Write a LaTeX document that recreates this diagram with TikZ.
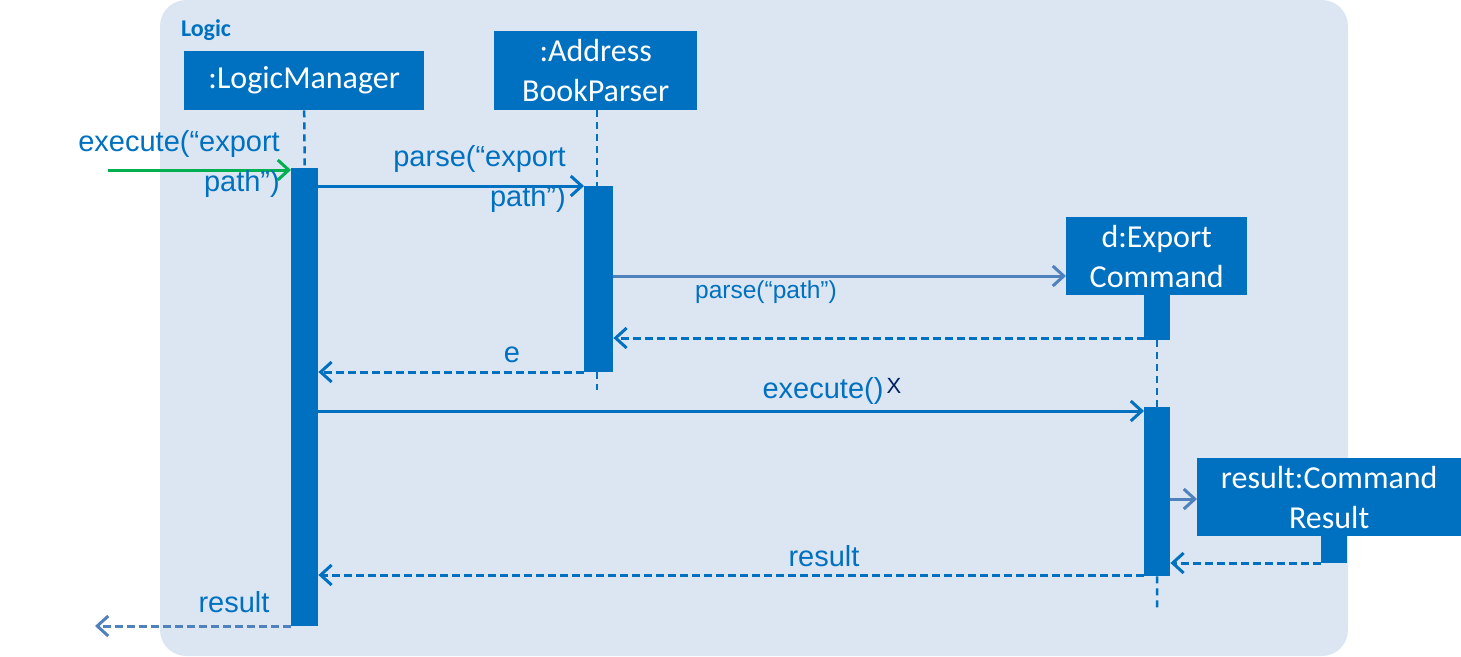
\documentclass[tikz,border=0pt]{standalone}
\usepackage{fontspec}
\setmainfont{Liberation Sans}
\newfontfamily\boxfont{Carlito}
\usetikzlibrary{arrows.meta}
\definecolor{boxblue}{HTML}{0070C0}
\definecolor{bgblue}{HTML}{DCE6F2}
\definecolor{lightblue}{HTML}{4F81BD}
\definecolor{msggreen}{HTML}{00B050}
\definecolor{navy}{HTML}{002060}
\tikzset{
  objbox/.style={fill=boxblue, draw=none, anchor=north west, inner sep=0pt,
    text=white, align=center, font=\boxfont\fontsize{32}{40}\selectfont},
  actbar/.style={fill=boxblue, draw=none, anchor=north west, inner sep=0pt},
  lifeline/.style={draw=boxblue, line width=2.5pt, dash pattern=on 7pt off 5pt},
  tip/.style={-{Straight Barb[length=11pt,width=20pt,line width=3pt]}},
  callmsg/.style={tip, draw=boxblue, line width=3pt},
  lightmsg/.style={tip, draw=lightblue, line width=3pt},
  retmsg/.style={tip, draw=boxblue, line width=3pt, dash pattern=on 8pt off 4pt},
  lightret/.style={tip, draw=lightblue, line width=3pt, dash pattern=on 8pt off 4pt},
  lbl/.style={text=boxblue, inner sep=0pt, font=\fontsize{29}{40}\selectfont},
  smalllbl/.style={text=boxblue, inner sep=0pt, font=\fontsize{24.5}{30}\selectfont}
}
\begin{document}
\begin{tikzpicture}[x=1pt,y=-1pt]
\useasboundingbox (0,0) rectangle (1461,656);
% frame
\fill[bgblue, rounded corners=26pt] (160,0) rectangle (1348,656);
\node[text=boxblue, inner sep=0pt, font=\boxfont\bfseries\fontsize{24}{28}\selectfont] (logic) at (206,30) {Logic};
% objects
\node[objbox, minimum width=240pt, minimum height=59pt] (lm) at (184,51) {\raisebox{-4pt}{:LogicManager}};
\node[objbox, minimum width=203pt, minimum height=79pt] (ab) at (494,31) {:Address\\BookParser};
\node[objbox, minimum width=181pt, minimum height=78pt] (ec) at (1066,217) {d:Export\\Command};
\node[objbox, minimum width=264pt, minimum height=78pt] (cr) at (1197,458) {result:Command\\Result};
% activation bars
\node[actbar, minimum width=27pt, minimum height=458pt] (alm) at (291,168) {};
\node[actbar, minimum width=29pt, minimum height=186pt] (aab) at (584,186) {};
\node[actbar, minimum width=26pt, minimum height=45pt] (aec1) at (1144,295) {};
\node[actbar, minimum width=26pt, minimum height=169pt] (aec2) at (1144,407) {};
\node[actbar, minimum width=26pt, minimum height=28pt] (acr) at (1321,535) {};
% lifelines
\coordinate (abx) at (597,0);
\coordinate (abend) at (597,390);
\coordinate (ecend) at (1157,612);
\draw[lifeline] (lm.south) -- (alm.north);
\draw[lifeline] (abx |- ab.south) -- (abx |- aab.north);
\draw[lifeline] (abx |- aab.south) -- (abend);
\draw[lifeline] (aec1.south) -- (aec2.north);
\draw[lifeline] (aec2.south) -- (ecend);
% messages
\coordinate (start) at (108,170);
\coordinate (out) at (95,626);
\draw[callmsg, draw=msggreen] (start) -- (start -| alm.west);
\node[lbl, anchor=east, align=right] (l1) at (280,164) {execute(“export\\path”)};
\draw[callmsg] (alm.east |- 0,186) -- (aab.west |- 0,186);
\node[lbl, anchor=east, align=right] (l2) at (566,179) {parse(“export\\path”)};
\draw[lightmsg] (aab.east |- 0,276) -- (ec.west |- 0,276);
\node[smalllbl, anchor=west] (l3) at (695,292) {parse(“path”)};
\draw[retmsg] (aec1.south |- 0,338) -- (aab.east |- 0,338);
\draw[retmsg] (aab.west |- 0,372) -- (alm.east |- 0,372);
\node[lbl] (l4) at (512,355) {e};
\draw[callmsg] (alm.east |- 0,411) -- (aec2.west |- 0,411);
\node[lbl] (l5) at (823,391) {execute()};
\node[text=navy, inner sep=0pt, font=\fontsize{22}{24}\selectfont] (lx) at (894,386) {X};
\draw[lightmsg] (aec2.east |- 0,499) -- (cr.west |- 0,499);
\draw[retmsg] (acr.west |- 0,563) -- (aec2.east |- 0,563);
\draw[retmsg] (aec2.west |- 0,575) -- (alm.east |- 0,575);
\node[lbl] (l6) at (824,556) {result};
\draw[lightret] (alm.west |- 0,626) -- (out);
\node[lbl] (l7) at (234,602) {result};
\end{tikzpicture}
\end{document}
